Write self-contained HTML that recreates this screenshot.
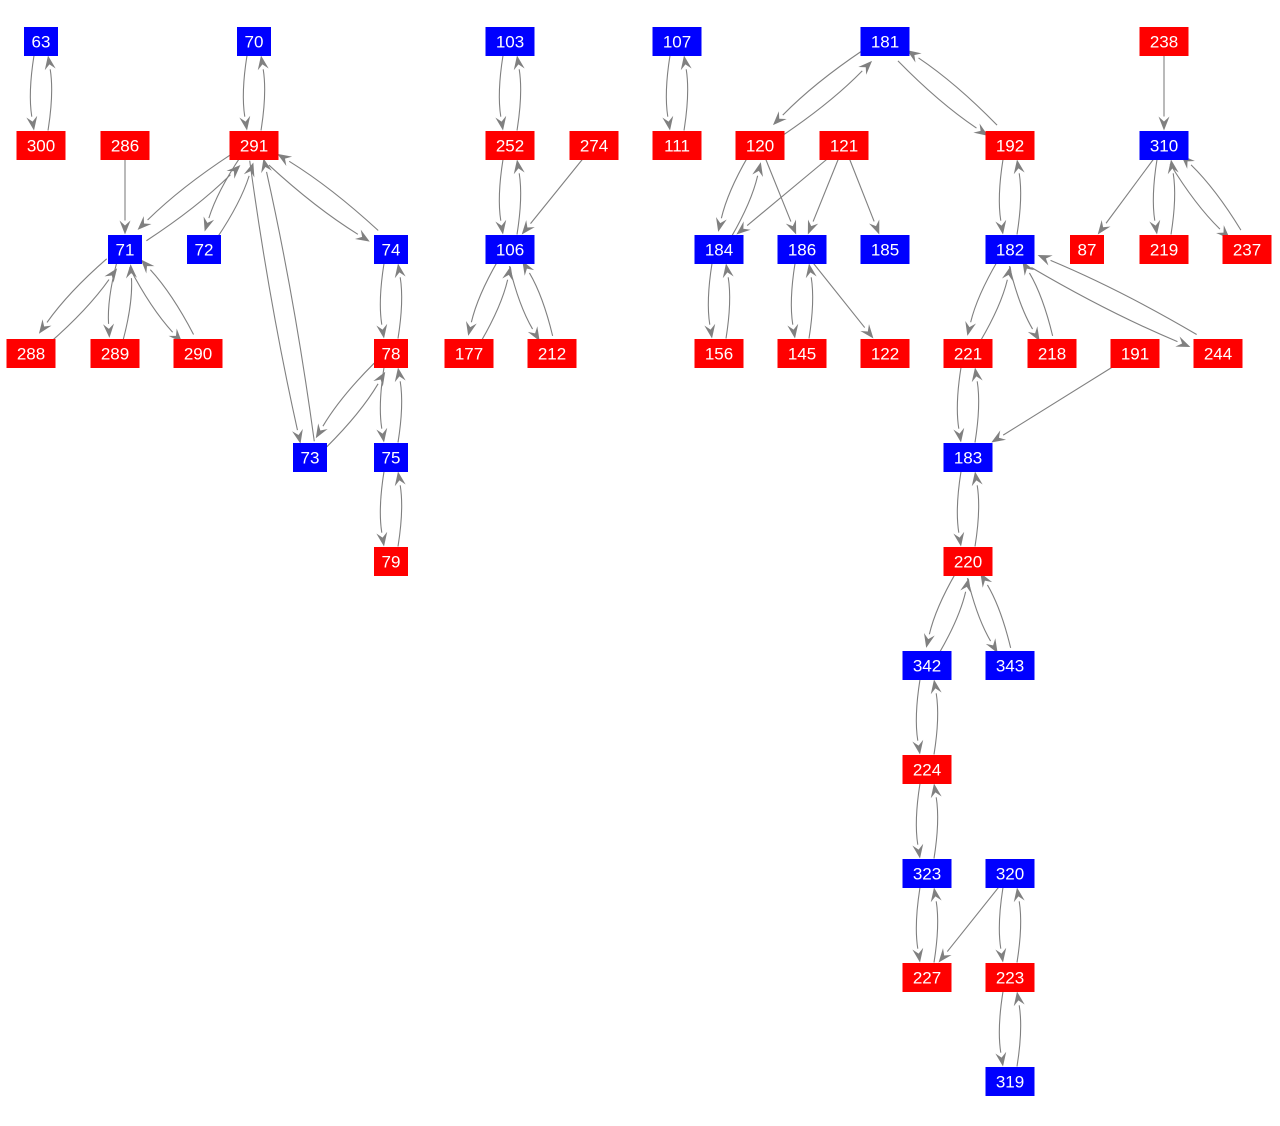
<!DOCTYPE html>
<html><head><meta charset="utf-8"><style>
body{margin:0;background:#fff;width:1280px;height:1121px;overflow:hidden}
svg text{font-family:"Liberation Sans",sans-serif;font-size:17px;fill:#fff;text-anchor:middle;dominant-baseline:central}
</style></head><body>
<svg id="g" width="1280" height="1121" xmlns="http://www.w3.org/2000/svg"></svg>
<script>
const N={};
function n(id,x,y,c){N[id]={x,y,c,w:(String(id).length>2?49:34),h:29};}
[[63,41,'B'],[70,254,'B'],[103,510,'B'],[107,677,'B'],[181,885,'B'],[238,1164,'R']].forEach(a=>n(a[0],a[1],41,a[2]));
[[300,41,'R'],[286,125,'R'],[291,254,'R'],[252,510,'R'],[274,594,'R'],[111,677,'R'],[120,760,'R'],[121,844,'R'],[192,1010,'R'],[310,1164,'B']].forEach(a=>n(a[0],a[1],145,a[2]));
[[71,125,'B'],[72,204,'B'],[74,391,'B'],[106,510,'B'],[184,719,'B'],[186,802,'B'],[185,885,'B'],[182,1010,'B'],[87,1087,'R'],[219,1164,'R'],[237,1247,'R']].forEach(a=>n(a[0],a[1],249,a[2]));
[[288,31],[289,115],[290,198],[78,391],[177,469],[212,552],[156,719],[145,802],[122,885],[221,968],[218,1052],[191,1135],[244,1218]].forEach(a=>n(a[0],a[1],353,'R'));
n(73,310,457,'B');n(75,391,457,'B');n(183,968,457,'B');
n(79,391,561,'R');n(220,968,561,'R');
n(342,927,665,'B');n(343,1010,665,'B');
n(224,927,769,'R');
n(323,927,873,'B');n(320,1010,873,'B');
n(227,927,977,'R');n(223,1010,977,'R');
n(319,1010,1081,'B');
const B=[[63,300],[70,291],[291,71],[291,72],[291,73],[291,74],[71,288],[71,289],[71,290],[74,78],[78,73],[78,75],[75,79],
[103,252],[252,106],[106,177],[106,212],[107,111],[181,120],[181,192],[120,184],[184,156],[186,145],[192,182],[182,221],[182,218],[182,244],
[221,183],[183,220],[220,342],[220,343],[342,224],[224,323],[323,227],[320,223],[223,319],[310,219],[310,237]];
const S=[[286,71],[120,186],[121,184],[121,186],[121,185],[186,122],[191,183],[320,227],[238,310],[310,87],[274,106]];
let out='';
function clip(p,u,nd){let tx=Math.abs(u[0])>1e-6?(nd.w/2)/Math.abs(u[0]):1e9;let ty=Math.abs(u[1])>1e-6?(nd.h/2)/Math.abs(u[1]):1e9;return Math.min(tx,ty);}
function edge(a,b,bi){const s=N[a],t=N[b];let dx=t.x-s.x,dy=t.y-s.y,L=Math.hypot(dx,dy);let u=[dx/L,dy/L],nn=[-u[1],u[0]];let k=bi?7:0;
let p0=[s.x+nn[0]*k,s.y+nn[1]*k],p1=[t.x+nn[0]*k,t.y+nn[1]*k];
let t0=clip(p0,u,s),t1=clip(p1,u,t);p0=[p0[0]+u[0]*t0,p0[1]+u[1]*t0];p1=[p1[0]-u[0]*t1,p1[1]-u[1]*t1];
let c=[(p0[0]+p1[0])/2+nn[0]*(bi?6:0),(p0[1]+p1[1])/2+nn[1]*(bi?6:0)];
let ex=p1[0]-c[0],ey=p1[1]-c[1],el=Math.hypot(ex,ey);ex/=el;ey/=el;
let bx=p1[0]-ex*14,by=p1[1]-ey*14;
out+=`<path d="M${p0[0]},${p0[1]} Q${c[0]},${c[1]} ${bx},${by}" fill="none" stroke="#808080" stroke-width="1.1"/>`;
out+=`<polygon points="${p1[0]},${p1[1]} ${bx-ey*5.5},${by+ex*5.5} ${p1[0]-ex*9},${p1[1]-ey*9} ${bx+ey*5.5},${by-ex*5.5}" fill="#808080"/>`;}
B.forEach(e=>{edge(e[0],e[1],1);edge(e[1],e[0],1);});
S.forEach(e=>edge(e[0],e[1],0));
for(const id in N){const d=N[id];out+=`<rect x="${d.x-d.w/2}" y="${d.y-14}" width="${d.w}" height="${d.h}" fill="${d.c=='B'?'#0000ff':'#ff0000'}"/><text x="${d.x}" y="${d.y+1}">${id}</text>`;}
document.getElementById('g').innerHTML=out;
</script>
</body></html>
